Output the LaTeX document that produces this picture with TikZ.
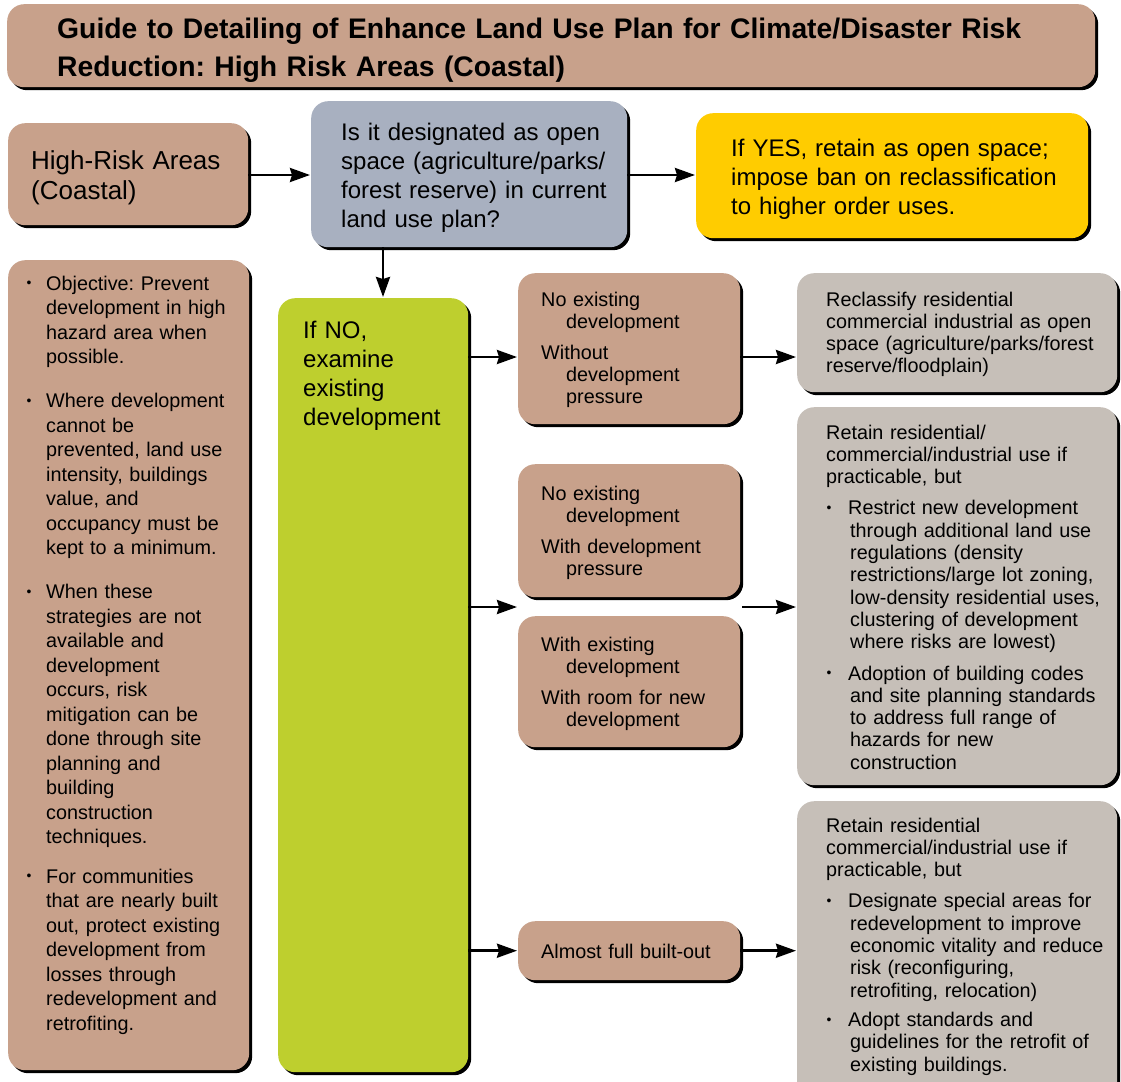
\documentclass[tikz,border=0pt]{standalone}
\usepackage{fontspec}
\setmainfont{Liberation Sans}
\usetikzlibrary{arrows.meta,shadows,calc}
\definecolor{brownbox}{RGB}{200,161,139}
\definecolor{bluebox}{RGB}{168,176,192}
\definecolor{yellowbox}{RGB}{255,204,0}
\definecolor{greenbox}{RGB}{190,207,46}
\definecolor{graybox}{RGB}{198,191,184}
\newcommand{\bsym}{\raisebox{2.2pt}{\scalebox{0.7}{\textbullet}}}
\newcommand{\bl}{\makebox[20pt][l]{\hspace{0.5pt}\bsym}}
\newcommand{\gbl}{\makebox[22pt][l]{\hspace{0.5pt}\bsym}}
\newcommand{\ii}{\hspace*{20pt}}
\newcommand{\gi}{\hspace*{24pt}}
\newcommand{\bi}{\hspace*{25pt}}
\frenchspacing
\begin{document}
\begin{tikzpicture}[x=1pt,y=-1pt,
  box/.style={rectangle, rounded corners=17pt, anchor=north west, inner sep=0pt, draw=none,
    drop shadow={shadow xshift=3pt, shadow yshift=-3pt, fill=black, opacity=1}},
  tx/.style={anchor=base west, inner sep=0pt, align=left, text width=#1},
  tx/.default=330pt,
  big/.style={font=\fontsize{24}{29}\selectfont},
  small/.style={font=\fontsize{19.8}{22.3}\selectfont},
  arr/.style={line width=2.8pt, -{Stealth[length=20pt,width=14pt,inset=2pt]}, shorten >=1pt}
]
\useasboundingbox (0,0) rectangle (1121,1081);
\clip (0,0) rectangle (1121,1081);

% boxes
\node[box, fill=brownbox, minimum width=1088pt, minimum height=83pt] (title) at (7,4) {};
\node[box, fill=brownbox, minimum width=240pt, minimum height=102pt] (hra) at (8,123) {};
\node[box, fill=bluebox, minimum width=316pt, minimum height=146pt] (q) at (311,101) {};
\node[box, fill=yellowbox, minimum width=392pt, minimum height=125pt] (yes) at (696,113) {};
\node[box, fill=brownbox, minimum width=241pt, minimum height=810pt] (obj) at (8,260) {};
\node[box, fill=greenbox, minimum width=190pt, minimum height=774pt] (green) at (278,298) {};
\node[box, fill=brownbox, minimum width=222pt, minimum height=151pt] (b1) at (518,273) {};
\node[box, fill=brownbox, minimum width=222pt, minimum height=133pt] (b2) at (518,464) {};
\node[box, fill=brownbox, minimum width=222pt, minimum height=131pt] (b3) at (518,616) {};
\node[box, fill=brownbox, minimum width=222pt, minimum height=59pt] (b4) at (518,921) {};
\node[box, fill=graybox, minimum width=320pt, minimum height=119pt] (g1) at (797,273) {};
\node[box, fill=graybox, minimum width=320pt, minimum height=378pt] (g2) at (797,407) {};
\node[box, fill=graybox, minimum width=320pt, minimum height=299pt] (g3) at (797,801) {};

% texts
\node[tx=1050pt, font=\fontsize{28.3}{39}\selectfont\bfseries] (t-title) at (57,38)
  {Guide to Detailing of Enhance Land Use Plan for Climate/Disaster Risk\\Reduction: High Risk Areas (Coastal)};
\node[tx=230pt, font=\fontsize{26}{30}\selectfont] (t-hra) at (31,169)
  {High-Risk Areas\\(Coastal)};
\node[tx=300pt, big] (t-q) at (341,140)
  {Is it designated as open\\space (agriculture/parks/\\forest reserve) in current\\land use plan?};
\node[tx=380pt, big] (t-yes) at (731,156)
  {If YES, retain as open space;\\impose ban on reclassification\\to higher order uses.};
\node[tx=180pt, big] (t-green) at (303,338)
  {If NO,\\examine\\existing\\development};
\node[tx=240pt, font=\fontsize{19.8}{24.5}\selectfont] (t-obj) at (26,290)
  {\bl Objective: Prevent\\\ii development in high\\\ii hazard area when\\\ii possible.\\[19.5pt]
   \bl Where development\\\ii cannot be\\\ii prevented, land use\\\ii intensity, buildings\\\ii value, and\\\ii occupancy must be\\\ii kept to a minimum.\\[19.5pt]
   \bl When these\\\ii strategies are not\\\ii available and\\\ii development\\\ii occurs, risk\\\ii mitigation can be\\\ii done through site\\\ii planning and\\\ii building\\\ii construction\\\ii techniques.\\[15pt]
   \bl For communities\\\ii that are nearly built\\\ii out, protect existing\\\ii development from\\\ii losses through\\\ii redevelopment and\\\ii retrofiting.};
\node[tx=215pt, small] (t-b1) at (541,306)
  {No existing\\\bi development\\[8.7pt]Without\\\bi development\\\bi pressure};
\node[tx=215pt, small] (t-b2) at (541,500)
  {No existing\\\bi development\\[8.7pt]With development\\\bi pressure};
\node[tx=215pt, small] (t-b3) at (541,651)
  {With existing\\\bi development\\[8.7pt]With room for new\\\bi development};
\node[tx=215pt, small] (t-b4) at (541,958)
  {Almost full built-out};
\node[tx=300pt, small] (t-g1) at (826,306)
  {Reclassify residential\\commercial industrial as open\\space (agriculture/parks/forest\\reserve/floodplain)};
\node[tx=300pt, small] (t-g2) at (826,439)
  {Retain residential/\\commercial/industrial use if\\practicable, but\\[9pt]
   \gbl Restrict new development\\\gi through additional land use\\\gi regulations (density\\\gi restrictions/large lot zoning,\\\gi low-density residential uses,\\\gi clustering of development\\\gi where risks are lowest)\\[9pt]
   \gbl Adoption of building codes\\\gi and site planning standards\\\gi to address full range of\\\gi hazards for new\\\gi construction};
\node[tx=300pt, small] (t-g3) at (826,832)
  {Retain residential\\commercial/industrial use if\\practicable, but\\[9pt]
   \gbl Designate special areas for\\\gi redevelopment to improve\\\gi economic vitality and reduce\\\gi risk (reconfiguring,\\\gi retrofiting, relocation)\\[7pt]
   \gbl Adopt standards and\\\gi guidelines for the retrofit of\\\gi existing buildings.};

% connectors
\coordinate (a1) at (518,357);
\coordinate (gapL) at (518,607);
\coordinate (gapR) at (742,607);
\coordinate (down) at (383,298);
\draw[arr] (hra.east |- 0,175) -- (q.west |- 0,175);
\draw[arr] (q.east |- 0,175) -- (yes.west |- 0,175);
\draw[arr] (down |- q.south) -- (down);
\draw[arr] (green.east |- a1) -- (a1);
\draw[arr] (b1.east |- a1) -- (g1.west |- a1);
\draw[arr] (green.east |- gapL) -- (gapL);
\draw[arr] (gapR) -- (g2.west |- gapR);
\draw[arr] (green.east |- b4.west) -- (b4.west);
\draw[arr] (b4.east) -- (g3.west |- b4.east);
\end{tikzpicture}
\end{document}
